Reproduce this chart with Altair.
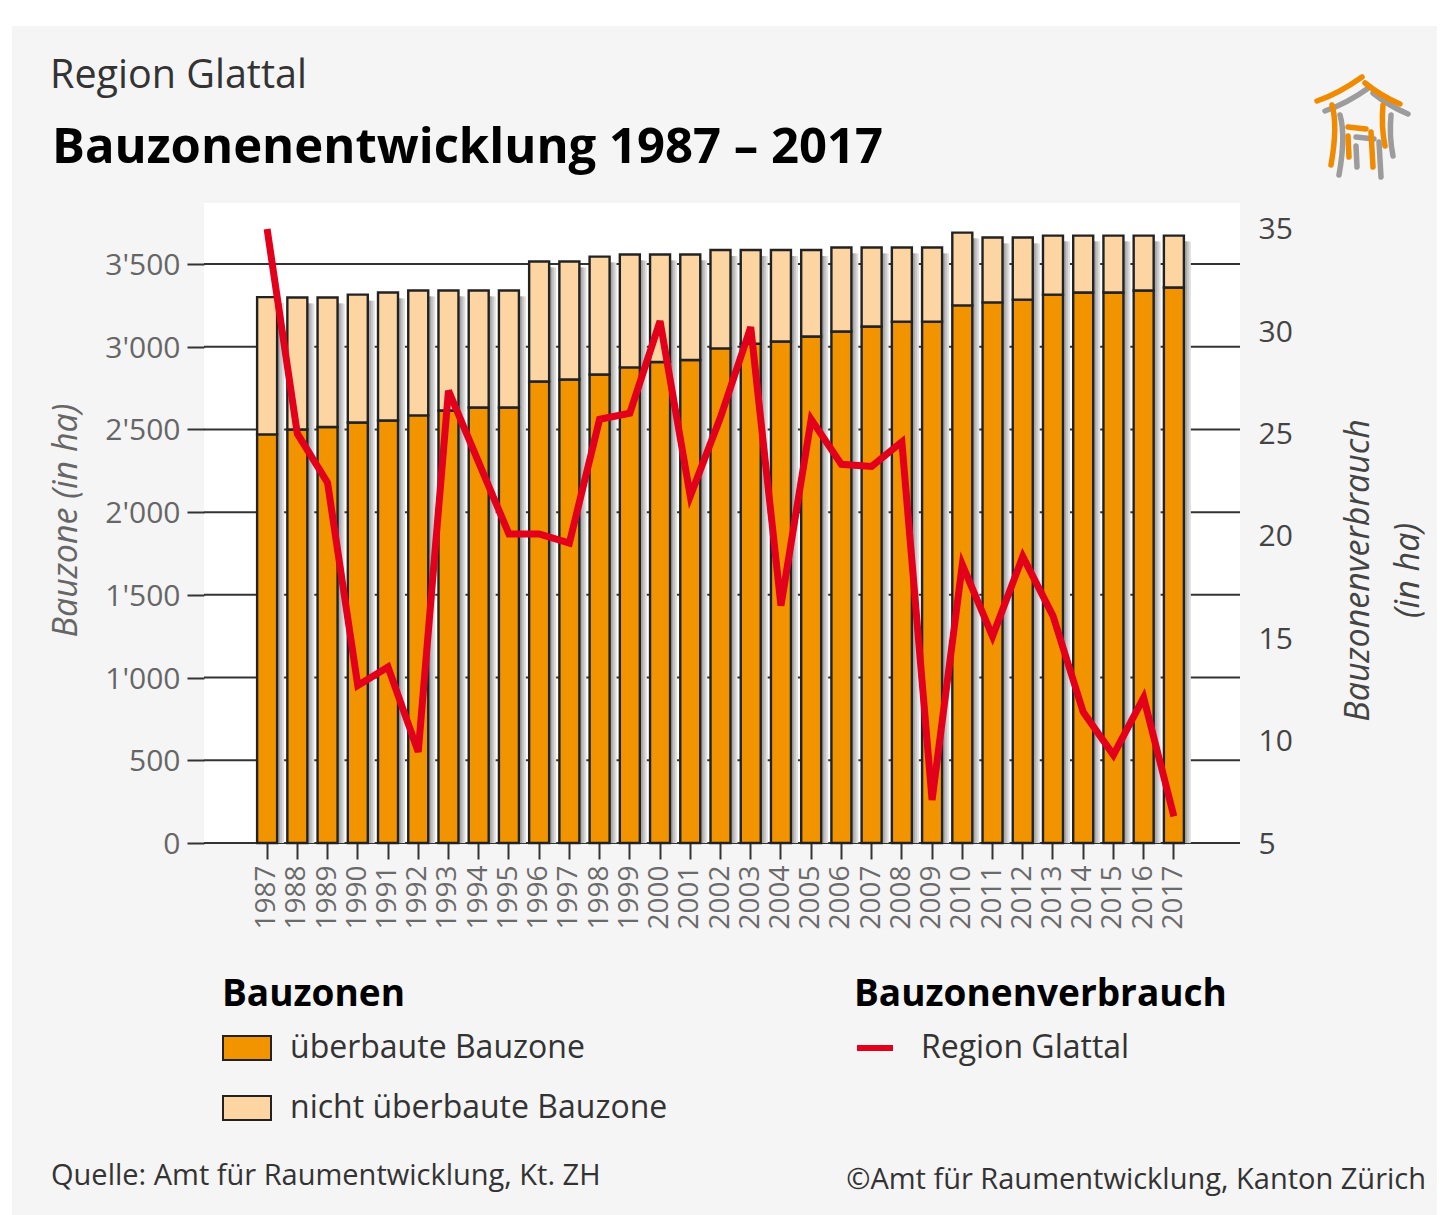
import altair as alt
import pandas as pd

years = list(range(1987, 2018))
total = [3300, 3298, 3298, 3315, 3328, 3340, 3340, 3340, 3340, 3515, 3515, 3545, 3558, 3558, 3558,
         3585, 3585, 3585, 3585, 3600, 3600, 3600, 3600, 3690, 3660, 3660, 3672, 3672, 3672, 3672, 3672]
built = [2470, 2500, 2515, 2542, 2554, 2585, 2615, 2633, 2633, 2790, 2802, 2832, 2875, 2908, 2920,
         2990, 3018, 3032, 3062, 3092, 3122, 3152, 3152, 3250, 3268, 3285, 3315, 3328, 3328, 3340, 3358]
consumption = [35.0, 25.0, 22.6, 12.7, 13.6, 9.45, 27.1, 23.6, 20.1, 20.1, 19.65, 25.7, 26.0, 30.5, 21.95,
               25.8, 30.2, 16.6, 25.7, 23.5, 23.4, 24.6, 7.1, 18.6, 15.1, 19.0, 16.1, 11.4, 9.3, 12.1, 6.3]
left_ticks = [0, 500, 1000, 1500, 2000, 2500, 3000, 3500]
right_ticks = [5, 10, 15, 20, 25, 30, 35]
cat_built = "überbaute Bauzone"
cat_free = "nicht überbaute Bauzone"
series_name = "Region Glattal"

ORANGE = "#f29400"
PEACH = "#fdd5a3"
RED = "#e2001a"
INK = "#222222"
GRID = "#333333"
FONT = "Open Sans"

W, H = 1036, 640
frame = pd.DataFrame({"year": years, "total": total, "built": built, "cons": consumption, "series": series_name})
rows = []
for y, t, b in zip(years, total, built):
    rows.append({"year": y, "start": 0, "end": b, "kind": cat_built})
    rows.append({"year": y, "start": b, "end": t, "kind": cat_free})
stack = pd.DataFrame(rows)
grid_frame = pd.DataFrame({"tick": left_ticks})

x_scale = alt.Scale(range=[48, 985], paddingOuter=0, paddingInner=0)
y_scale = alt.Scale(domain=[0, 3869], nice=False, zero=False)
y2_scale = alt.Scale(domain=[5, 36.27], nice=False, zero=False)

x_axis = alt.Axis(title=None, labelAngle=270, labelAlign="right", labelBaseline="middle", labelFontSize=28,
                  labelFont=FONT, labelColor="#6a6a6a", labelPadding=6, tickSize=16, tickWidth=2, tickColor=GRID,
                  domain=False, grid=False, labelOverlap=False)
y_axis = alt.Axis(values=left_ticks, title="Bauzone (in ha)", titleFont=FONT, titleFontStyle="italic",
                  titleFontWeight="normal", titleFontSize=34, titleColor="#666666", titleX=-128, titleY=317,
                  titleAngle=270, titleAlign="center", titleBaseline="alphabetic",
                  labelExpr="replace(format(datum.value, ','), ',', \"'\")", labelFont=FONT, labelFontSize=30,
                  labelColor="#666666", labelPadding=7, labelOffset=1.5, tickSize=17, tickWidth=2, tickColor=GRID,
                  domain=False, grid=False)
y2_axis = alt.Axis(orient="right", values=right_ticks, title=["Bauzonenverbrauch", "(in ha)"], titleFont=FONT,
                   titleFontStyle="italic", titleFontWeight="normal", titleFontSize=34, titleColor="#444444",
                   titleLineHeight=50, titleX=128, titleY=367, titleAngle=270, titleAlign="center",
                   titleBaseline="alphabetic", labelFont=FONT, labelFontSize=30, labelColor="#444444",
                   labelPadding=18, labelOffset=1, ticks=False, domain=False, grid=False)

grid = alt.Chart(grid_frame).mark_rule(color=GRID, strokeWidth=2).encode(
    y=alt.Y("tick:Q", scale=y_scale, axis=y_axis),
)

def shadow(offset, color):
    return alt.Chart(frame).mark_bar(size=20, color=color, xOffset=offset, yOffset=6).encode(
        x=alt.X("year:O", scale=x_scale, axis=x_axis),
        y=alt.Y("total:Q", scale=y_scale, axis=y_axis),
        y2=alt.datum(0),
    )

bars = alt.Chart(stack).mark_bar(size=20, stroke=INK, strokeWidth=2.4).encode(
    x=alt.X("year:O", scale=x_scale, axis=x_axis),
    y=alt.Y("start:Q", scale=y_scale, axis=y_axis),
    y2="end:Q",
    fill=alt.Fill("kind:N", scale=alt.Scale(domain=[cat_built, cat_free], range=[ORANGE, PEACH]),
                  legend=alt.Legend(title="Bauzonen", orient="none", legendX=18, legendY=774, padding=0,
                                    titleFont=FONT, titleFontSize=37, titleFontWeight="bold", titleColor="#000000",
                                    titleLimit=600, titlePadding=9, labelFont=FONT, labelFontSize=32,
                                    labelColor="#333333", labelLimit=600, labelOffset=18, rowPadding=19,
                                    symbolType="M-1,-0.5H1V0.5H-1Z", symbolSize=2304,
                                    symbolStrokeColor=INK, symbolStrokeWidth=2, symbolOpacity=1)),
)

def note(text, x, y, size, color="#333333", weight="normal", align="left"):
    return alt.Chart(alt.Data(values=[{}])).mark_text(
        text=text, font=FONT, fontSize=size, color=color, fontWeight=weight, align=align, baseline="alphabetic"
    ).encode(x=alt.value(x - 204), y=alt.value(y - 203))

def blank(x0, x1, y0, y1):
    return alt.Chart(alt.Data(values=[{}])).mark_rect(color="white").encode(
        x=alt.value(x0 - 204), x2=alt.value(x1 - 204), y=alt.value(y0 - 203), y2=alt.value(y1 - 203))

# logo paths, pixel offsets from the logo's origin
logo_path = ("M1,25 Q22,18 46,1 M49,7 Q65,20 84,28 M16,29 Q22,50 15,89 M67,29 Q65,50 69,70 "
             "M32,51 L50,53 M32,60 L33,81 M55,56 L57,91")

def logo(dx, dy, color):
    return alt.Chart(alt.Data(values=[{}])).mark_point(
        shape=logo_path, size=4, filled=False, stroke=color, strokeWidth=5.5, strokeCap="round", opacity=1
    ).encode(x=alt.value(1316 - 204 + dx), y=alt.value(76 - 203 + dy))

left_group = alt.layer(
    blank(8, 1437, 8, 26), blank(8, 12, 8, 1215),
    grid,
    shadow(7, "#dedede"), shadow(5, "#c4c4c4"), shadow(3, "#a8a8a8"), bars,
    note("Region Glattal", 50, 88, 39.5, "#333333"),
    note("Bauzonenentwicklung 1987 – 2017", 52, 163, 49, "#000000", "bold"),
    note("Quelle:  Amt für Raumentwicklung, Kt.  ZH", 51, 1185, 29),
    note("©Amt für Raumentwicklung, Kanton Zürich", 1426, 1189, 29, align="right"),
    logo(8, 10, "#9c9c9c"), logo(0, 0, "#f08a00"),
)

line = alt.Chart(frame).mark_line(color=RED, strokeWidth=7, strokeJoin="miter", strokeCap="butt").encode(
    x=alt.X("year:O", scale=x_scale, axis=x_axis),
    y=alt.Y("cons:Q", scale=y2_scale, axis=y2_axis),
    stroke=alt.Stroke("series:N", scale=alt.Scale(domain=[series_name], range=[RED]),
                      legend=alt.Legend(title="Bauzonenverbrauch", orient="none", legendX=650, legendY=774, padding=0,
                                        titleFont=FONT, titleFontSize=37, titleFontWeight="bold", titleColor="#000000",
                                        titleLimit=600, titlePadding=13, labelFont=FONT, labelFontSize=32,
                                        labelColor="#333333", labelLimit=600, labelOffset=25, symbolType="stroke",
                                        symbolSize=1296, symbolStrokeWidth=6)),
)

chart = (
    alt.layer(left_group, line)
    .resolve_scale(y="independent")
    .properties(
        width=W, height=H, background="#f5f5f5",
        padding={"left": 196, "top": 195, "right": 197, "bottom": 372},
        autosize=alt.AutoSizeParams(type="none"),
    )
    .configure_view(fill="white", stroke=None)
)

chart.save("out.html", embed_options={"renderer": "svg", "actions": False})
